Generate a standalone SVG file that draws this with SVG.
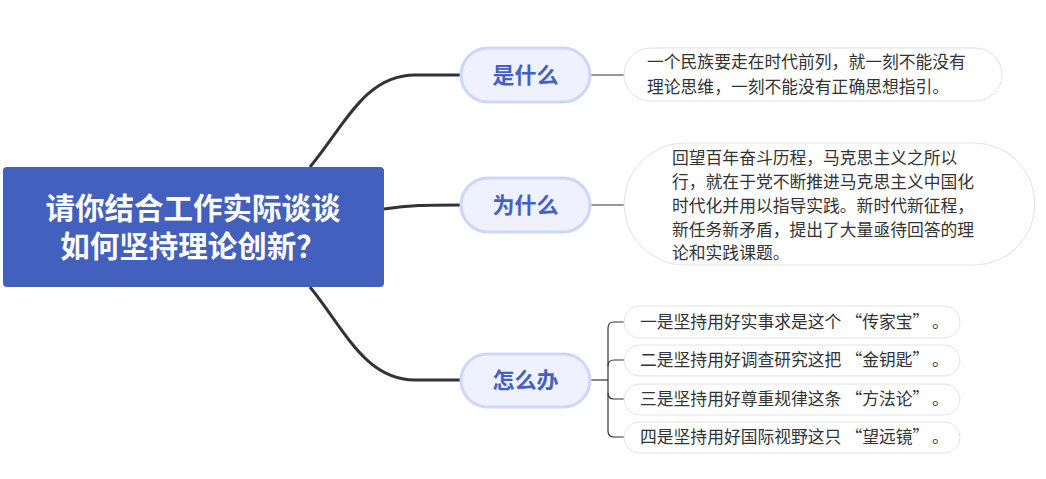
<svg xmlns="http://www.w3.org/2000/svg" width="1046" height="479" viewBox="0 0 1046 479">
<style>
.f{font-family:"Noto Sans CJK SC","Noto Sans",sans-serif}
.pill{fill:#eff1fe;stroke:#cdd6fb;stroke-width:3}
.pt{font-size:22px;font-weight:bold;fill:#4560c0;text-anchor:middle}
.box{fill:#ffffff;stroke:#e3e3e3;stroke-width:1}
.bt{font-size:16.8px;fill:#333333}
.main{stroke:#333333;stroke-width:3;fill:none}
.thin{stroke:#333333;stroke-width:1.2;fill:none}
</style>
<rect width="1046" height="479" fill="#ffffff"/>
<g id="connectors">
<path class="main" d="M310 167 C345 125 365 75 415 75 L461 75"/>
<path class="main" d="M384 209 C410 205 425 205 461 205"/>
<path class="main" d="M310 287 C345 330 365 380 415 380 L461 380"/>
<path class="thin" d="M590 75 L624 75"/>
<path class="thin" d="M590 205 L624 205"/>
<path class="thin" d="M590 380 L608 380"/>
<path class="thin" d="M624 322 L614 322 Q608 322 608 328 L608 431 Q608 437 614 437 L624 437"/>
<path class="thin" d="M624 360 L614 360 Q608 360 608 366"/>
<path class="thin" d="M624 399 L614 399 Q608 399 608 393"/>
</g>
<g id="root">
<rect x="3" y="167" width="381" height="120" rx="4" fill="#4360be"/>
<text class="f" x="193" y="219" font-size="29.5" font-weight="bold" fill="#ffffff" text-anchor="middle">请你结合工作实际谈谈</text>
<text class="f" x="193" y="257" font-size="29.5" font-weight="bold" fill="#ffffff" text-anchor="middle">如何坚持理论创新？</text>
</g>
<g id="what">
<rect class="pill" x="461" y="48" width="129" height="54" rx="27"/>
<text class="f pt" x="525.5" y="83">是什么</text>
</g>
<g id="what-text">
<rect class="box" x="624" y="48" width="378" height="53" rx="26.5"/>
<text class="f bt" x="647" y="68">一个民族要走在时代前列，就一刻不能没有</text>
<text class="f bt" x="647" y="93">理论思维，一刻不能没有正确思想指引。</text>
</g>
<g id="why">
<rect class="pill" x="461" y="178" width="129" height="54" rx="27"/>
<text class="f pt" x="525.5" y="213">为什么</text>
</g>
<g id="why-text">
<rect class="box" x="624" y="143" width="411" height="122" rx="61"/>
<text class="f bt" x="672" y="164">回望百年奋斗历程，马克思主义之所以</text>
<text class="f bt" x="672" y="188">行，就在于党不断推进马克思主义中国化</text>
<text class="f bt" x="672" y="212">时代化并用以指导实践。新时代新征程，</text>
<text class="f bt" x="672" y="236">新任务新矛盾，提出了大量亟待回答的理</text>
<text class="f bt" x="672" y="259">论和实践课题。</text>
</g>
<g id="how">
<rect class="pill" x="461" y="354" width="129" height="53" rx="26.5"/>
<text class="f pt" x="525.5" y="388">怎么办</text>
</g>
<g id="how-1">
<rect class="box" x="624" y="306" width="336" height="32" rx="16"/>
<text class="f bt" x="640" y="328">一是坚持用好实事求是这个<tspan dx="4">“传家宝”</tspan><tspan dx="11">。</tspan></text>
</g>
<g id="how-2">
<rect class="box" x="624" y="345" width="336" height="31" rx="15.5"/>
<text class="f bt" x="640" y="366">二是坚持用好调查研究这把<tspan dx="4">“金钥匙”</tspan><tspan dx="11">。</tspan></text>
</g>
<g id="how-3">
<rect class="box" x="624" y="384" width="336" height="31" rx="15.5"/>
<text class="f bt" x="640" y="405">三是坚持用好尊重规律这条<tspan dx="4">“方法论”</tspan><tspan dx="11">。</tspan></text>
</g>
<g id="how-4">
<rect class="box" x="624" y="422" width="336" height="31" rx="15.5"/>
<text class="f bt" x="640" y="443">四是坚持用好国际视野这只<tspan dx="4">“望远镜”</tspan><tspan dx="11">。</tspan></text>
</g>
</svg>
